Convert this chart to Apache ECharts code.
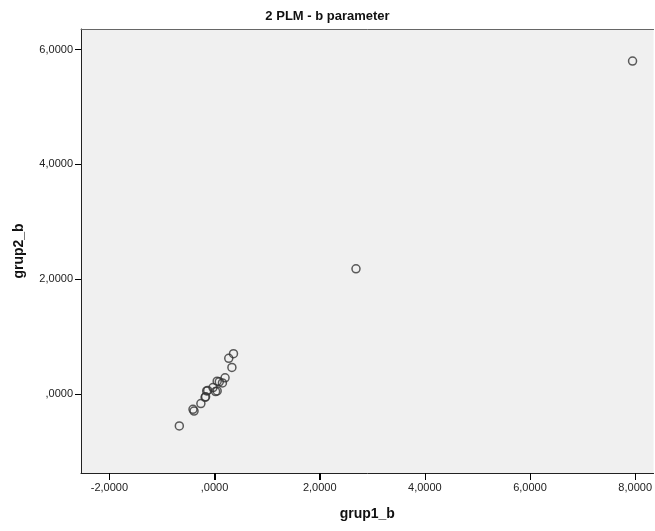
<!DOCTYPE html>
<html>
<head>
<meta charset="utf-8">
<script src="https://cdn.jsdelivr.net/npm/echarts@6/dist/echarts.min.js"></script>
<style>
    html, body { margin: 0; padding: 0; background: #fff; }
    #chart { width: 655px; height: 531px; }
</style>
</head>
<body>
<div id="chart"></div>
<script type="text/javascript">
    // b parameter estimates, group 1 vs group 2
    var grup1_b = [-0.67, -0.41, -0.39, -0.26, -0.17, -0.18, -0.15, -0.13, -0.03, 0.02, 0.05, 0.05, 0.09, 0.15, 0.20, 0.27, 0.36, 0.33, 2.69, 7.95];
    var grup2_b = [-0.56, -0.27, -0.30, -0.17, -0.05, -0.06, 0.05, 0.06, 0.11, 0.04, 0.05, 0.22, 0.21, 0.19, 0.28, 0.62, 0.70, 0.46, 2.18, 5.80];
    var xTicks = [-2, 0, 2, 4, 6, 8];
    var yTicks = [0, 2, 4, 6];

    var xMin = -2.54, xMax = 8.35;
    var yMin = -1.38, yMax = 6.36;

    function fmt(v) {
        var s = v.toFixed(4).replace('.', ',');
        if (s.indexOf('0,') === 0) s = s.substring(1);
        return s;
    }

    var points = grup1_b.map(function(x, i) {
        return [x, grup2_b[i]];
    });

    var myChart = echarts.init(document.getElementById('chart'));
    var option = {
        backgroundColor: '#ffffff',
        animation: false,
        title: {
            text: '2 PLM - b parameter',
            left: 'center',
            top: 5,
            textStyle: { fontFamily: 'Liberation Sans Narrow, Liberation Sans, Arial', fontSize: 13, fontWeight: 'bold', color: '#111' }
        },
        grid: {
            left: 81, top: 29, right: 0, bottom: 58,
            show: true,
            backgroundColor: '#f0f0f0',
            borderWidth: 0
        },
        xAxis: [
            {
                type: 'value',
                position: 'bottom',
                min: xMin,
                max: xMax,
                name: 'grup1_b',
                nameLocation: 'middle',
                nameGap: 34,
                nameTextStyle: { fontFamily: 'Liberation Sans', fontSize: 14, fontWeight: 'bold', color: '#111' },
                splitLine: { show: false },
                axisLine: { show: true, onZero: false, lineStyle: { color: '#222', width: 1 } },
                axisTick: { show: true, customValues: xTicks, length: 7, lineStyle: { color: '#000', width: 1 } },
                axisLabel: { customValues: xTicks, formatter: fmt, fontFamily: 'Liberation Sans', fontSize: 11, color: '#222', margin: 9 }
            },
            {
                // top frame line only
                type: 'value',
                position: 'top',
                min: xMin,
                max: xMax,
                splitLine: { show: false },
                axisLine: { show: true, onZero: false, lineStyle: { color: '#666', width: 1 } },
                axisTick: { show: false },
                axisLabel: { show: false }
            }
        ],
        yAxis: {
            type: 'value',
            position: 'left',
            min: yMin,
            max: yMax,
            name: 'grup2_b',
            nameLocation: 'middle',
            nameGap: 55,
            nameTextStyle: { fontFamily: 'Liberation Sans', fontSize: 14, fontWeight: 'bold', color: '#111' },
            splitLine: { show: false },
            axisLine: { show: true, onZero: false, lineStyle: { color: '#222', width: 1 } },
            axisTick: { show: true, customValues: yTicks, length: 6, lineStyle: { color: '#000', width: 1 } },
            axisLabel: { customValues: yTicks, formatter: fmt, fontFamily: 'Liberation Sans', fontSize: 11, color: '#222', margin: 8 }
        },
        series: [
            {
                type: 'scatter',
                data: points,
                symbol: 'circle',
                symbolSize: 8,
                itemStyle: { color: 'rgba(0,0,0,0)', borderColor: '#333', borderWidth: 1.5 }
            },
            {
                // x tick marks below the bottom axis line
                type: 'custom',
                clip: false,
                silent: true,
                data: xTicks.map(function(v) { return [v]; }),
                renderItem: function(params, api) {
                    var p = api.coord([api.value(0), yMin]);
                    var x = Math.round(p[0]) + 0.5;
                    return {
                        type: 'line',
                        shape: { x1: x, y1: p[1], x2: x, y2: p[1] + 7 },
                        style: { stroke: '#000', lineWidth: 1 }
                    };
                }
            }
        ]
    };
    myChart.setOption(option);
</script>
</body>
</html>
